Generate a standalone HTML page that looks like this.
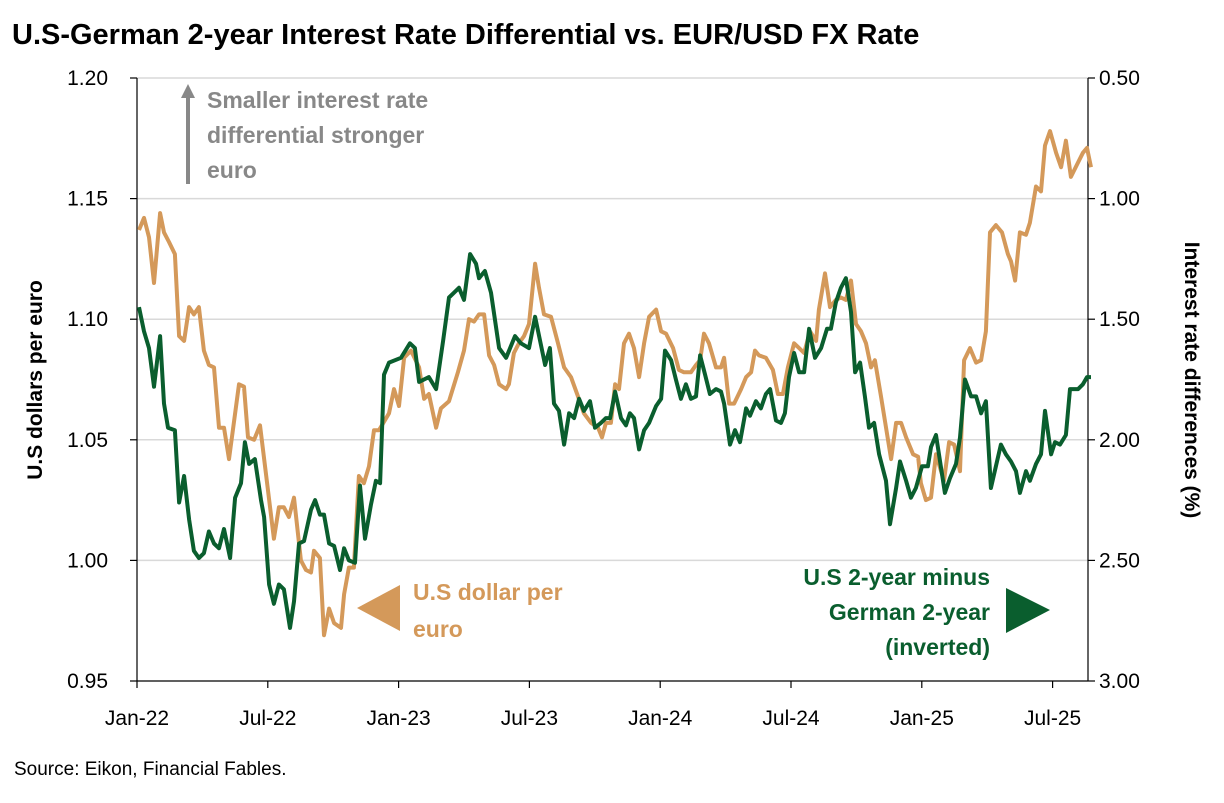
<!DOCTYPE html>
<html><head><meta charset="utf-8"><style>
html,body{margin:0;padding:0;background:#fff;}
svg text{font-family:"Liberation Sans",sans-serif;}
</style></head><body>
<svg id="chart" width="1224" height="798" viewBox="0 0 1224 798" xmlns="http://www.w3.org/2000/svg">
<text x="12" y="44" font-size="29" font-weight="bold" fill="#000">U.S-German 2-year Interest Rate Differential vs. EUR/USD FX Rate</text>
<g id="grid"></g>
<g id="axes"></g>
<g id="series"></g>
<text transform="translate(42,380) rotate(-90)" text-anchor="middle" font-size="21" font-weight="bold" fill="#000">U.S dollars per euro</text>
<text transform="translate(1185,380) rotate(90)" text-anchor="middle" font-size="21" font-weight="bold" fill="#000">Interest rate differences (%)</text>
<g>
<line x1="188" y1="184" x2="188" y2="96" stroke="#888" stroke-width="4"/>
<polygon points="181,98 195,98 188,84" fill="#888"/>
<text x="207" y="108" font-size="23" font-weight="bold" fill="#888">Smaller interest rate</text>
<text x="207" y="143" font-size="23" font-weight="bold" fill="#888">differential stronger</text>
<text x="207" y="178" font-size="23" font-weight="bold" fill="#888">euro</text>
</g>
<g>
<polygon points="357,608 400,585 400,631" fill="#D4995A"/>
<text x="413" y="600" font-size="23" font-weight="bold" fill="#D4995A">U.S dollar per</text>
<text x="413" y="637" font-size="23" font-weight="bold" fill="#D4995A">euro</text>
</g>
<g>
<text x="990" y="585" text-anchor="end" font-size="23" font-weight="bold" fill="#0A5E2E">U.S 2-year minus</text>
<text x="990" y="620" text-anchor="end" font-size="23" font-weight="bold" fill="#0A5E2E">German 2-year</text>
<text x="990" y="655" text-anchor="end" font-size="23" font-weight="bold" fill="#0A5E2E">(inverted)</text>
<polygon points="1006,588 1006,633 1050,610" fill="#0A5E2E"/>
</g>
<text x="14" y="775" font-size="19" fill="#000">Source: Eikon, Financial Fables.</text>
</svg>
<script>
const eurMonths=[0.09,0.32,0.55,0.78,1.06,1.24,1.47,1.74,1.93,2.16,2.39,2.61,2.84,3.07,3.30,3.53,3.76,3.99,4.22,4.68,4.91,5.09,5.37,5.64,6.01,6.28,6.51,6.74,6.97,7.20,7.52,7.75,7.98,8.12,8.39,8.58,8.81,9.04,9.36,9.50,9.72,9.95,10.18,10.41,10.64,10.87,11.10,11.56,11.79,12.02,12.25,12.57,12.94,13.17,13.39,13.72,13.94,14.31,14.72,15.00,15.23,15.46,15.69,15.92,16.15,16.38,16.61,16.93,17.06,17.29,17.52,17.75,17.98,18.26,18.44,18.67,18.99,19.31,19.59,19.91,20.23,20.50,20.83,21.15,21.33,21.51,21.74,21.93,22.11,22.34,22.57,22.80,23.03,23.26,23.49,23.81,24.04,24.27,24.59,24.86,25.09,25.41,25.64,25.83,26.01,26.24,26.56,26.79,26.93,27.16,27.39,27.71,27.94,28.17,28.35,28.53,28.85,29.17,29.40,29.63,29.86,30.14,30.37,30.60,30.87,31.15,31.28,31.56,31.79,32.06,32.29,32.52,32.75,32.98,33.21,33.44,33.67,33.85,34.13,34.59,34.82,35.05,35.28,35.60,35.83,35.96,36.19,36.42,36.65,37.02,37.25,37.48,37.75,37.94,38.21,38.49,38.72,38.94,39.13,39.40,39.68,39.95,40.09,40.28,40.50,40.78,40.96,41.24,41.47,41.65,41.88,42.16,42.39,42.61,42.84,43.17,43.39,43.58,43.76];
const eurValues=[1.137,1.142,1.134,1.115,1.144,1.136,1.132,1.127,1.093,1.091,1.105,1.102,1.105,1.087,1.081,1.080,1.055,1.055,1.042,1.073,1.072,1.051,1.050,1.056,1.029,1.009,1.022,1.022,1.018,1.026,1.000,0.996,0.995,1.004,1.001,0.969,0.980,0.974,0.972,0.986,0.997,0.997,1.035,1.032,1.039,1.054,1.054,1.061,1.071,1.064,1.084,1.087,1.080,1.067,1.069,1.055,1.063,1.066,1.078,1.087,1.100,1.099,1.102,1.102,1.085,1.081,1.073,1.071,1.073,1.086,1.090,1.093,1.098,1.123,1.113,1.102,1.101,1.090,1.080,1.076,1.068,1.061,1.057,1.055,1.051,1.057,1.057,1.073,1.071,1.090,1.094,1.088,1.076,1.090,1.101,1.104,1.095,1.094,1.088,1.079,1.078,1.078,1.081,1.083,1.094,1.090,1.080,1.080,1.084,1.065,1.065,1.071,1.076,1.078,1.087,1.085,1.084,1.079,1.069,1.069,1.080,1.090,1.088,1.086,1.095,1.091,1.104,1.119,1.105,1.108,1.109,1.108,1.116,1.098,1.095,1.090,1.080,1.083,1.068,1.042,1.057,1.057,1.051,1.044,1.043,1.032,1.025,1.026,1.044,1.033,1.049,1.048,1.037,1.083,1.088,1.082,1.083,1.095,1.136,1.139,1.136,1.127,1.124,1.116,1.136,1.135,1.140,1.155,1.153,1.172,1.178,1.169,1.163,1.174,1.159,1.165,1.169,1.171,1.163];
const diffMonths=[0.09,0.32,0.55,0.78,1.06,1.24,1.42,1.74,1.93,2.16,2.39,2.61,2.84,3.07,3.30,3.53,3.76,3.99,4.27,4.50,4.77,4.95,5.14,5.41,5.69,5.83,6.06,6.28,6.51,6.74,7.02,7.20,7.43,7.66,7.98,8.17,8.39,8.58,8.81,9.04,9.31,9.50,9.72,10.00,10.23,10.46,10.73,10.96,11.15,11.33,11.56,12.11,12.52,12.75,12.94,13.39,13.72,14.04,14.31,14.54,14.77,15.00,15.28,15.55,15.69,15.96,16.24,16.61,16.93,17.34,17.61,17.98,18.26,18.49,18.72,18.94,19.13,19.36,19.59,19.82,20.05,20.28,20.50,20.78,21.01,21.28,21.51,21.70,21.93,22.20,22.43,22.61,22.80,23.03,23.26,23.49,23.81,24.04,24.22,24.50,24.72,24.95,25.18,25.41,25.64,25.83,26.06,26.28,26.56,26.79,26.93,27.20,27.43,27.66,27.94,28.12,28.39,28.62,28.85,29.04,29.31,29.54,29.72,29.91,30.14,30.37,30.60,30.83,31.10,31.38,31.65,31.83,32.06,32.29,32.52,32.75,32.94,33.17,33.39,33.58,33.81,34.04,34.36,34.54,34.82,35.00,35.28,35.50,35.73,36.01,36.28,36.42,36.65,37.06,37.29,37.57,37.75,37.98,38.26,38.49,38.72,38.94,39.17,39.63,39.86,40.09,40.32,40.50,40.78,40.96,41.24,41.47,41.65,41.93,42.11,42.34,42.61,42.80,43.17,43.39,43.58,43.76];
const diffValues=[1.45,1.55,1.62,1.78,1.57,1.85,1.95,1.96,2.26,2.15,2.33,2.46,2.49,2.47,2.38,2.43,2.45,2.37,2.49,2.24,2.18,2.01,2.10,2.08,2.25,2.32,2.60,2.68,2.60,2.62,2.78,2.67,2.43,2.42,2.29,2.25,2.31,2.31,2.43,2.44,2.54,2.45,2.50,2.51,2.19,2.41,2.27,2.17,2.18,1.73,1.68,1.66,1.60,1.62,1.76,1.74,1.79,1.59,1.41,1.39,1.37,1.42,1.23,1.27,1.33,1.30,1.39,1.62,1.66,1.57,1.60,1.62,1.49,1.59,1.69,1.62,1.85,1.88,2.02,1.89,1.91,1.83,1.88,1.84,1.95,1.93,1.91,1.91,1.80,1.91,1.94,1.89,1.91,2.04,1.96,1.93,1.86,1.83,1.63,1.67,1.75,1.83,1.77,1.83,1.82,1.65,1.73,1.81,1.79,1.80,1.85,2.02,1.96,2.01,1.87,1.90,1.84,1.87,1.81,1.79,1.92,1.93,1.89,1.74,1.64,1.72,1.72,1.54,1.66,1.62,1.54,1.54,1.43,1.37,1.33,1.47,1.72,1.68,1.82,1.95,1.93,2.06,2.17,2.35,2.20,2.09,2.17,2.24,2.20,2.11,2.11,2.03,1.98,2.22,2.16,2.10,1.99,1.75,1.82,1.82,1.89,1.84,2.20,2.02,2.06,2.09,2.13,2.22,2.13,2.17,2.10,2.06,1.88,2.06,2.01,2.02,1.98,1.79,1.79,1.77,1.74,1.74];
const leftTicks=[0.95,1.00,1.05,1.10,1.15,1.20];
const rightTicks=[0.50,1.00,1.50,2.00,2.50,3.00];
const xTickMonths=[0,6,12,18,24,30,36,42];
const xTickLabels=["Jan-22","Jul-22","Jan-23","Jul-23","Jan-24","Jul-24","Jan-25","Jul-25"];

const NS="http://www.w3.org/2000/svg";
const X0=137,X1=1088,Y0=78,Y1=681;
const xScale=m=>X0+m*21.8;
const yLeft=v=>Y1-(v-0.95)/(0.25)*(Y1-Y0);
const yRight=v=>Y0+(v-0.5)/(2.5)*(Y1-Y0);
function mk(tag,attrs,parent){const e=document.createElementNS(NS,tag);for(const k in attrs)e.setAttribute(k,attrs[k]);parent.appendChild(e);return e;}
const grid=document.getElementById('grid'),axes=document.getElementById('axes'),series=document.getElementById('series');
leftTicks.forEach(v=>{
  const y=yLeft(v);
  if(v>0.95+1e-9){const g=mk('line',{x1:X0,x2:X1,y1:y,y2:y,stroke:'#d9d9d9','stroke-width':1.5},grid);
    
    }
  mk('line',{x1:X0-7,x2:X0,y1:y,y2:y,stroke:'#000','stroke-width':1.2},axes);
  const t=mk('text',{x:108,y:y+7,'text-anchor':'end','font-size':21,fill:'#000'},axes);
  t.textContent=v.toFixed(2);
  
  
});
rightTicks.forEach(v=>{
  const y=yRight(v);
  mk('line',{x1:X1,x2:X1+7,y1:y,y2:y,stroke:'#000','stroke-width':1.2},axes);
  const t=mk('text',{x:1099,y:y+7,'font-size':21,fill:'#000'},axes);
  t.textContent=v.toFixed(2);
  
  
});
mk('line',{x1:X0,x2:X0,y1:Y0,y2:Y1,stroke:'#000','stroke-width':1.2},axes);
mk('line',{x1:X1,x2:X1,y1:Y0,y2:Y1,stroke:'#000','stroke-width':1.2},axes);
mk('line',{x1:X0,x2:X1,y1:Y1,y2:Y1,stroke:'#000','stroke-width':1.2},axes);
xTickMonths.forEach((m,i)=>{
  const x=xScale(m);
  mk('line',{x1:x,x2:x,y1:Y1,y2:Y1+7,stroke:'#000','stroke-width':1.2},axes);
  const t=mk('text',{x:x,y:725,'text-anchor':'middle','font-size':21,fill:'#000'},axes);
  t.textContent=xTickLabels[i];
  
  
});
const eurPts=eurMonths.map((m,i)=>xScale(m).toFixed(1)+','+yLeft(eurValues[i]).toFixed(1)).join(' ');
const eurLine=mk('polyline',{points:eurPts,fill:'none',stroke:'#D4995A','stroke-width':4,'stroke-linejoin':'round'},series);


const diffPts=diffMonths.map((m,i)=>xScale(m).toFixed(1)+','+yRight(diffValues[i]).toFixed(1)).join(' ');
const diffLine=mk('polyline',{points:diffPts,fill:'none',stroke:'#0A5E2E','stroke-width':4,'stroke-linejoin':'round'},series);


</script>
</body></html>
